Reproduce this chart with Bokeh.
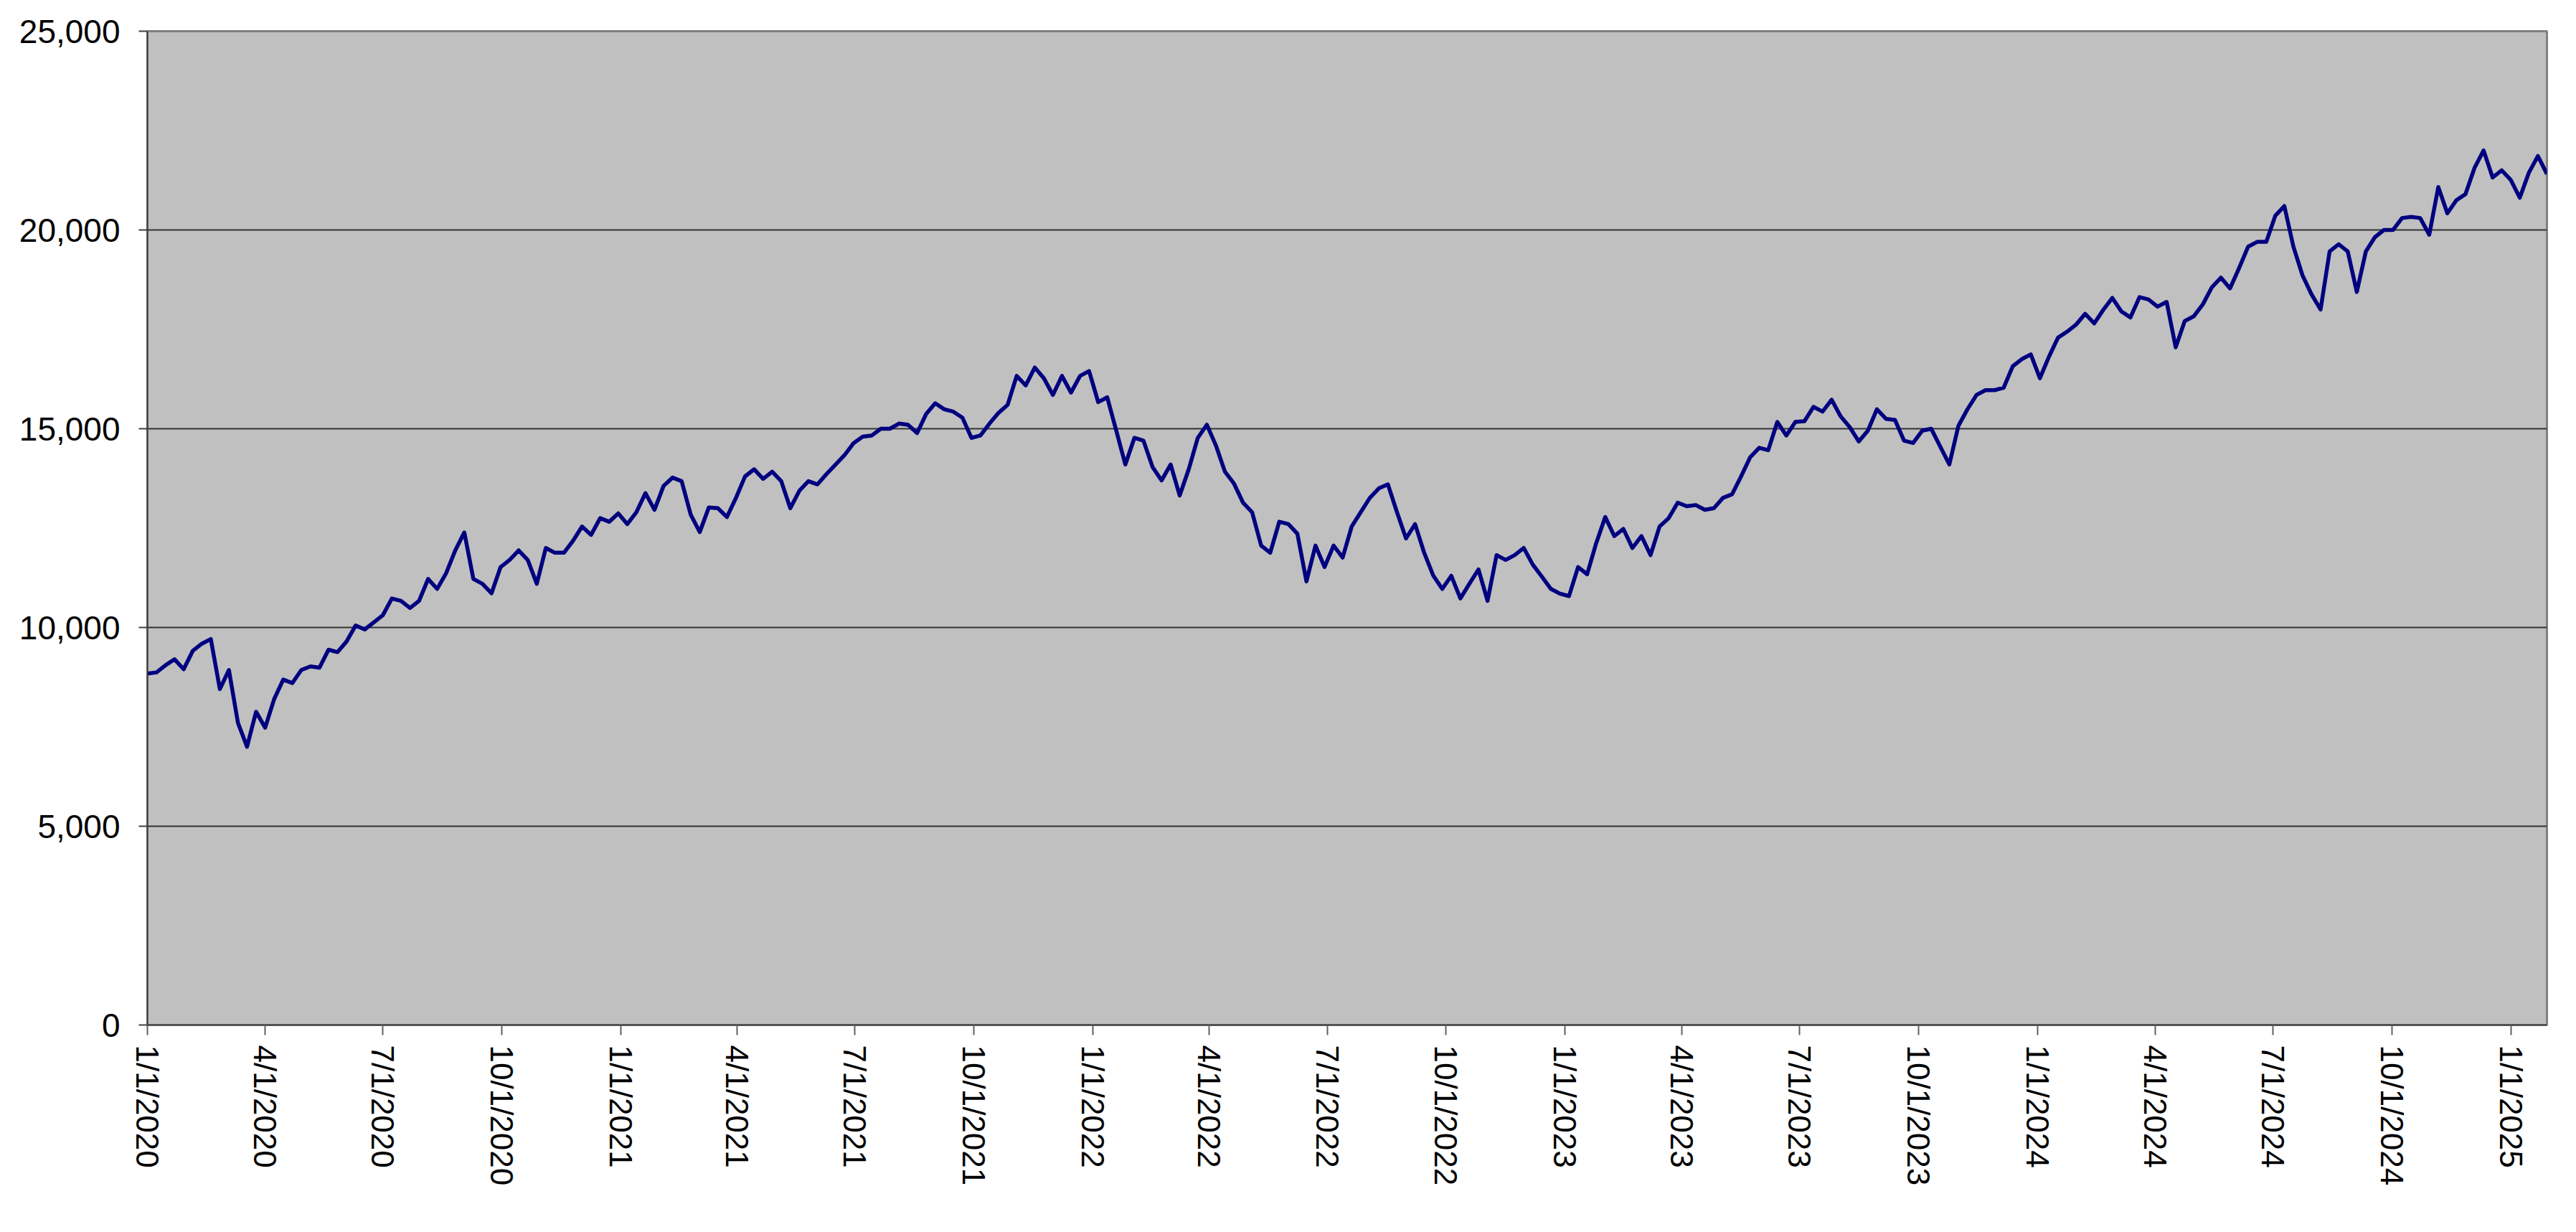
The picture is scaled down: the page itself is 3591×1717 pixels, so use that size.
import pandas as pd
from bokeh.plotting import figure
from bokeh.models import Range1d, FixedTicker, NumeralTickFormatter, ColumnDataSource
from bokeh.embed import file_html
from bokeh.resources import INLINE

# ---- data (weekly values) ----
start_date = "2020-01-01"
values = [
    8840, 8870, 9050, 9200, 8950, 9410, 9590, 9710, 8450, 8930,
    7600, 7000, 7880, 7480, 8200, 8690, 8600, 8930, 9020, 8990,
    9440, 9380, 9650, 10050, 9950, 10130, 10310, 10730, 10670, 10490,
    10670, 11220, 10970, 11370, 11940, 12390, 11220, 11100, 10860, 11520,
    11700, 11940, 11700, 11100, 12000, 11880, 11880, 12180, 12540, 12330,
    12750, 12660, 12870, 12600, 12900, 13380, 12960, 13560, 13770, 13680,
    12840, 12400, 13020, 13000, 12780, 13260, 13800, 13980, 13740, 13920,
    13680, 13000, 13440, 13680, 13600, 13860, 14100, 14340, 14640, 14800,
    14830, 15000, 15000, 15130, 15100, 14890, 15370, 15640, 15490, 15430,
    15280, 14770, 14830, 15130, 15400, 15600, 16330, 16090, 16540, 16270,
    15850, 16330, 15910, 16330, 16450, 15670, 15790, 14950, 14100, 14770,
    14700, 14040, 13700, 14100, 13320, 13980, 14770, 15100, 14580, 13920,
    13620, 13140, 12900, 12060, 11880, 12660, 12600, 12360, 11160, 12060,
    11520, 12060, 11760, 12540, 12900, 13260, 13500, 13600, 12900, 12240,
    12600, 11880, 11310, 10970, 11300, 10730, 11100, 11460, 10670, 11820,
    11700, 11820, 12000, 11580, 11280, 10970, 10850, 10790, 11520, 11340,
    12120, 12780, 12300, 12480, 12000, 12300, 11820, 12540, 12750, 13140,
    13050, 13080, 12960, 13000, 13260, 13350, 13800, 14280, 14520, 14460,
    15170, 14830, 15170, 15190, 15550, 15430, 15730, 15310, 15040, 14680,
    14950, 15490, 15250, 15220, 14700, 14640, 14950, 15000, 14550, 14100,
    15070, 15490, 15850, 15970, 15970, 16030, 16570, 16750, 16870, 16270,
    16810, 17290, 17440, 17620, 17890, 17650, 17990, 18290, 17950, 17800,
    18310, 18250, 18070, 18190, 17050, 17710, 17830, 18130, 18560, 18800,
    18530, 19040, 19580, 19700, 19700, 20360, 20600, 19580, 18860, 18380,
    18000, 19460, 19640, 19460, 18440, 19460, 19820, 20000, 20000, 20300,
    20330, 20300, 19880, 21080, 20420, 20750, 20900, 21560, 22000, 21320,
    21500, 21260, 20810, 21440, 21860, 21410,
]
tick_labels = [
    "1/1/2020", "4/1/2020", "7/1/2020", "10/1/2020",
    "1/1/2021", "4/1/2021", "7/1/2021", "10/1/2021",
    "1/1/2022", "4/1/2022", "7/1/2022", "10/1/2022",
    "1/1/2023", "4/1/2023", "7/1/2023", "10/1/2023",
    "1/1/2024", "4/1/2024", "7/1/2024", "10/1/2024",
    "1/1/2025",
]
y_ticks = [0, 5000, 10000, 15000, 20000, 25000]

# ---- derived ----
origin = pd.Timestamp(start_date)
dates = pd.date_range(start_date, periods=len(values), freq="7D")
days = [int((d - origin).days) for d in dates]
tick_days = [int((pd.to_datetime(t, format="%m/%d/%Y") - origin).days) for t in tick_labels]

src = ColumnDataSource(dict(x=days, y=values))

p = figure(
    width=3575, height=1700,
    output_backend="svg", toolbar_location=None,
    x_range=Range1d(0, days[-1]), y_range=Range1d(0, y_ticks[-1]),
    min_border_left=205, min_border_right=25, min_border_top=43, min_border_bottom=272,
    background_fill_color="#C0C0C0", border_fill_color="white",
)
p.outline_line_color = "#808080"
p.outline_line_width = 3

p.line("x", "y", source=src, line_color="#000080", line_width=5.5, line_join="round")

FONT = "Liberation Sans"

# y axis
p.yaxis.ticker = FixedTicker(ticks=y_ticks)
p.yaxis.formatter = NumeralTickFormatter(format="0,0")
p.yaxis.major_label_text_font = FONT
p.yaxis.major_label_text_font_size = "46px"
p.yaxis.major_label_text_color = "black"
p.yaxis.major_tick_out = 12
p.yaxis.major_tick_in = 0
p.yaxis.minor_tick_out = 0
p.yaxis.minor_tick_in = 0
p.yaxis.major_label_standoff = 26
p.yaxis.axis_line_color = "#404040"
p.yaxis.axis_line_width = 2
p.yaxis.major_tick_line_color = "#404040"
p.yaxis.major_tick_line_width = 2

# x axis
p.xaxis.ticker = FixedTicker(ticks=tick_days)
p.xaxis.major_label_overrides = {d: t for d, t in zip(tick_days, tick_labels)}
p.xaxis.major_label_orientation = "vertical"
p.xaxis.major_label_text_font = FONT
p.xaxis.major_label_text_font_size = "44px"
p.xaxis.major_label_text_color = "black"
p.xaxis.major_tick_out = 14
p.xaxis.major_tick_in = 0
p.xaxis.minor_tick_out = 0
p.xaxis.minor_tick_in = 0
p.xaxis.major_label_standoff = 14
p.xaxis.axis_line_color = "#404040"
p.xaxis.axis_line_width = 2
p.xaxis.major_tick_line_color = "#606060"
p.xaxis.major_tick_line_width = 2

# grid
p.xgrid.visible = False
p.ygrid.ticker = FixedTicker(ticks=y_ticks)
p.ygrid.grid_line_color = "#333333"
p.ygrid.grid_line_width = 2

open("out.html", "w").write(file_html(p, INLINE))
